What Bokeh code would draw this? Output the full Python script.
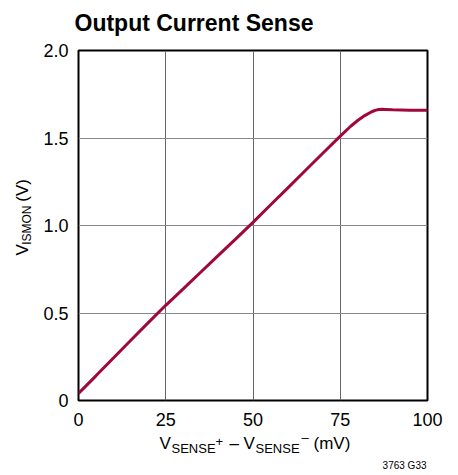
import math
from bokeh.plotting import figure
from bokeh.layouts import column, row
from bokeh.models import FixedTicker, Range1d
from bokeh.core.properties import value
from bokeh.embed import file_html
from bokeh.resources import INLINE

# ---- data ----
vsense_mv = [0, 5, 10, 15, 20, 25, 30, 35, 40, 45, 50, 55, 60, 65, 70, 75, 78, 80,
             82, 84, 85, 86, 87, 88, 90, 95, 100]
vismon_v = [0.040, 0.141, 0.243, 0.344, 0.445, 0.544, 0.638, 0.733, 0.828, 0.922,
            1.018, 1.117, 1.215, 1.314, 1.413, 1.511, 1.567, 1.600, 1.628, 1.650,
            1.658, 1.663, 1.664, 1.663, 1.661, 1.659, 1.659]
x_ticks = [0, 25, 50, 75, 100]
y_ticks = [0, 0.5, 1.0, 1.5, 2.0]
y_tick_labels = ["0", "0.5", "1.0", "1.5", "2.0"]
title_text = "Output Current Sense"
fig_id = "3763 G33"

FONT = "Liberation Sans"
LINE_COLOR = "#A0083A"

# ---- layout (page pixels) ----
PAGE_W, PAGE_H = 458, 475
TITLE_H = 38
YLAB_W = 40
FRAME_L, FRAME_T, FRAME_W, FRAME_H = 75, 50, 352, 350
MAIN_BOTTOM = 436
MAIN_H = MAIN_BOTTOM - TITLE_H
MAIN_W = PAGE_W - YLAB_W
XLAB_H = PAGE_H - MAIN_BOTTOM

def cap_half(size):
    # rendered text is centred on the anchor; shift by half the cap height
    return 0.358 * size

p = figure(width=MAIN_W, height=MAIN_H, output_backend="svg", toolbar_location=None,
           title=None,
           x_range=Range1d(0, 100), y_range=Range1d(0, 2.0),
           min_border_left=FRAME_L - YLAB_W,
           min_border_right=MAIN_W - (FRAME_L - YLAB_W) - FRAME_W,
           min_border_top=FRAME_T - TITLE_H,
           min_border_bottom=MAIN_BOTTOM - FRAME_T - FRAME_H)
p.background_fill_color = "white"
p.border_fill_color = "white"
p.outline_line_color = "black"
p.outline_line_width = 2

for ax in (p.xaxis[0], p.yaxis[0]):
    ax.axis_line_color = None
    ax.major_tick_line_color = None
    ax.minor_tick_line_color = None
    ax.major_tick_out = 0
    ax.major_tick_in = 0
    ax.minor_tick_out = 0
    ax.major_label_text_font = FONT
    ax.major_label_text_font_size = "18px"
    ax.major_label_text_color = "black"
p.xaxis[0].ticker = FixedTicker(ticks=x_ticks)
p.yaxis[0].ticker = FixedTicker(ticks=y_ticks)
p.yaxis[0].major_label_overrides = {t: s for t, s in zip(y_ticks, y_tick_labels)}
p.xaxis[0].major_label_standoff = 12
p.yaxis[0].major_label_standoff = 10

p.xgrid.ticker = FixedTicker(ticks=x_ticks)
p.ygrid.ticker = FixedTicker(ticks=y_ticks)
p.xgrid.grid_line_color = "#666666"
p.ygrid.grid_line_color = "#888888"
p.xgrid.grid_line_width = 1
p.ygrid.grid_line_width = 1

p.line(vsense_mv, vismon_v, line_color=LINE_COLOR, line_width=3)

# ---- text panels ----
def blank_fig(w, h):
    f = figure(width=w, height=h, output_backend="svg", toolbar_location=None,
               title=None,
               x_range=Range1d(0, w), y_range=Range1d(0, h),
               x_axis_location=None, y_axis_location=None, min_border=0)
    f.outline_line_color = None
    f.grid.visible = False
    f.background_fill_color = "white"
    f.border_fill_color = "white"
    return f

# title (baseline at page y 31)
TS = 23
tfig = blank_fig(PAGE_W, TITLE_H)
tfig.text(x=[74], y=[TITLE_H - (31 - cap_half(TS))], text=[title_text],
          text_font=value(FONT), text_font_size=f"{TS}px", text_font_style="bold",
          text_color="black", text_align="left", text_baseline="alphabetic")

# x axis label pieces: (text, font px, page x start, page baseline y)
MAIN_SZ, SUB_SZ = 17, 13
xl_parts = [("V", MAIN_SZ, 159, 449), ("SENSE", SUB_SZ, 171, 453),
            ("+", SUB_SZ, 215, 446), ("\u2013", MAIN_SZ, 229, 449),
            ("V", MAIN_SZ, 243, 449), ("SENSE", SUB_SZ, 255, 453),
            ("\u2013", SUB_SZ, 301, 442), ("(mV)", MAIN_SZ, 313, 449)]
xlab = blank_fig(PAGE_W, XLAB_H)
for t, s, px, py in xl_parts:
    xlab.text(x=[px], y=[PAGE_H - (py - cap_half(s))], text=[t], text_font=value(FONT),
              text_font_size=f"{s}px", text_color="black",
              text_align="left", text_baseline="alphabetic")
IDS = 10
xlab.text(x=[426], y=[PAGE_H - (469 - cap_half(IDS))], text=[fig_id],
          text_font=value(FONT), text_font_size=f"{IDS}px", text_color="black",
          text_align="right", text_baseline="alphabetic")

# y axis label pieces (rotated): (text, font px, page y start, page baseline x)
YM, YS = 17, 12
yl_parts = [("V", YM, 271, 28.5), ("ISMON", YS, 259, 31), ("(V)", YM, 210, 28.5)]
ylab = blank_fig(YLAB_W, MAIN_H)
for t, s, py, px in yl_parts:
    ylab.text(x=[px - cap_half(s)], y=[MAIN_BOTTOM - py], text=[t], text_font=value(FONT),
              text_font_size=f"{s}px", text_color="black", angle=math.pi / 2,
              text_align="left", text_baseline="alphabetic")

layout = column(tfig, row(ylab, p), xlab)
open("out.html", "w").write(file_html(layout, INLINE))
